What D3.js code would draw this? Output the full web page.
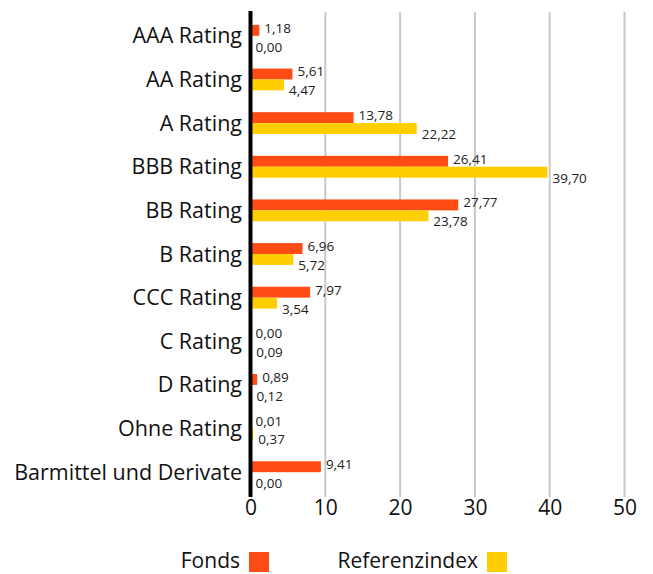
<!DOCTYPE html>
<html><head><meta charset="utf-8">
<script src="https://cdn.jsdelivr.net/npm/d3@7"></script>
<style>body{margin:0;background:#fff}svg{display:block;font-family:"Open Sans",sans-serif}</style>
</head><body><div id="chart"></div>
<script>
const categories = ["AAA Rating","AA Rating","A Rating","BBB Rating","BB Rating","B Rating","CCC Rating","C Rating","D Rating","Ohne Rating","Barmittel und Derivate"];
const fonds = [1.18,5.61,13.78,26.41,27.77,6.96,7.97,0.00,0.89,0.01,9.41];
const referenz = [0.00,4.47,22.22,39.70,23.78,5.72,3.54,0.09,0.12,0.37,0.00];
const xTicks = [0,10,20,30,40,50];
const seriesNames = ["Fonds","Referenzindex"];
const colors = ["#FF4B14","#FFCE00"];

const W=653,H=574;
const svg=d3.select("#chart").append("svg").attr("width",W).attr("height",H);
const x=d3.scaleLinear().domain([0,50]).range([250.5,624.5]);
const y=d3.scaleBand().domain(categories).range([14,494]).paddingInner(0.5).paddingOuter(0.25);
const fmt=v=>v.toFixed(2).replace(".",",");

// grid
svg.append("g").selectAll("line").data(xTicks.slice(1)).join("line")
  .attr("x1",d=>x(d)).attr("x2",d=>x(d)).attr("y1",12).attr("y2",497)
  .attr("stroke","#c8c8c8").attr("stroke-width",2);

const bh=y.bandwidth()/2;
const series=[fonds,referenz];
series.forEach((vals,si)=>{
  const g=svg.append("g");
  g.selectAll("rect").data(vals).join("rect")
    .attr("x",x(0)).attr("y",(d,i)=>y(categories[i])+si*bh)
    .attr("width",d=>x(d)-x(0)).attr("height",bh).attr("fill",colors[si]);
  g.selectAll("text").data(vals).join("text")
    .attr("x",d=>x(d)+5).attr("y",(d,i)=>y(categories[i])+si*bh+(si===0?bh-3:bh+5))
    .attr("font-size",13.5).attr("fill","#222").text(d=>fmt(d));
});

// axis line
svg.append("line").attr("x1",x(0)).attr("x2",x(0)).attr("y1",11).attr("y2",497)
  .attr("stroke","#000").attr("stroke-width",4);

// category labels
svg.append("g").selectAll("text").data(categories).join("text")
  .attr("x",242).attr("y",d=>y(d)+y.bandwidth()/2).attr("dy","0.35em")
  .attr("text-anchor","end").attr("font-size",21.5).attr("fill","#111").text(d=>d);

// x axis labels
const xa=svg.append("g").attr("transform","translate(0,497)")
  .call(d3.axisBottom(x).tickValues(xTicks).tickSize(0).tickPadding(3).tickFormat(d3.format("d")));
xa.select(".domain").remove();
xa.selectAll("text").attr("font-size",21).attr("fill","#111").attr("font-family","Open Sans, sans-serif");

// legend
const leg=[{t:seriesNames[0],tx:240,rx:249},{t:seriesNames[1],tx:478,rx:487}];
leg.forEach((l,i)=>{
  svg.append("text").attr("x",l.tx).attr("y",568).attr("text-anchor","end")
    .attr("font-size",21).attr("fill","#111").text(l.t);
  svg.append("rect").attr("x",l.rx).attr("y",552).attr("width",20).attr("height",20).attr("fill",colors[i]);
});
</script></body></html>
